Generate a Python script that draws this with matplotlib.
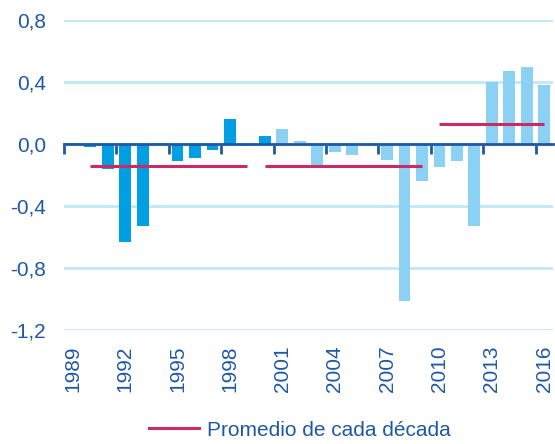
import matplotlib.pyplot as plt
import numpy as np
from matplotlib.lines import Line2D

years = list(range(1989, 2017))
values = [0.005, -0.02, -0.16, -0.63, -0.53, 0.005, -0.11, -0.09, -0.04, 0.16,
          -0.01, 0.05, 0.10, 0.02, -0.14, -0.05, -0.07, 0.005, -0.10, -1.01,
          -0.24, -0.15, -0.11, -0.53, 0.40, 0.47, 0.50, 0.38]
decade_start = [1990, 2000, 2010]
decade_end = [1999, 2009, 2016]
decade_mean = [-0.14, -0.14, 0.13]
dark_until = 2000
label_years = years[::3]
y_ticks = [0.8, 0.4, 0.0, -0.4, -0.8, -1.2]
legend_label = 'Promedio de cada década'

TEXT = '#1f58a5'
DARK_BAR = '#009fe3'
LIGHT_BAR = '#8bd1f3'
RED = '#cc2a64'
GRID = '#c2e7f7'

plt.rcParams['font.family'] = ['Liberation Sans', 'DejaVu Sans']

fig = plt.figure(figsize=(5.55, 4.44), dpi=100)
ax = fig.add_axes([64 / 555, 1 - 330 / 444, 489 / 555, 310 / 444])

idx = np.arange(len(years))
colors = [DARK_BAR if y <= dark_until else LIGHT_BAR for y in years]
ax.bar(idx, values, width=0.68, color=colors, zorder=2)

for s, e, m in zip(decade_start, decade_end, decade_mean):
    ax.hlines(m, years.index(s), years.index(e), color=RED, linewidth=2.2, zorder=3)

ax.set_xlim(-0.5, len(years) - 0.5)
ax.set_ylim(min(y_ticks), max(y_ticks))
ax.set_yticks(y_ticks)
ax.set_yticklabels([f'{v:.1f}'.replace('.', ',') for v in y_ticks])
ax.tick_params(axis='y', length=0, pad=13, labelsize=15, labelcolor=TEXT)
ax.yaxis.grid(True, color=GRID, linewidth=2, zorder=0)
ax.set_axisbelow(True)

for side in ['left', 'right', 'top']:
    ax.spines[side].set_visible(False)
ax.spines['bottom'].set_position(('data', 0))
ax.spines['bottom'].set_color(TEXT)
ax.spines['bottom'].set_linewidth(2)
ax.spines['bottom'].set_zorder(4)

# boundary ticks on the zero line, every third year
ax.set_xticks(np.arange(-0.5, len(years) - 0.5, 3))
ax.tick_params(axis='x', length=7, width=2, color=TEXT, labelbottom=False)

sec = ax.secondary_xaxis('bottom')
sec.set_xticks([years.index(y) for y in label_years])
sec.set_xticklabels([str(y) for y in label_years], rotation=90)
sec.tick_params(length=0, pad=11, labelsize=15, labelcolor=TEXT)
sec.spines['bottom'].set_visible(False)

handle = Line2D([], [], color=RED, linewidth=2.2)
fig.legend([handle], [legend_label], loc='center', bbox_to_anchor=(300 / 555, 1 - 430 / 444),
           frameon=False, fontsize=15, labelcolor=TEXT, handlelength=2.4, handletextpad=0.4)

fig.savefig('out.png', dpi=100)
